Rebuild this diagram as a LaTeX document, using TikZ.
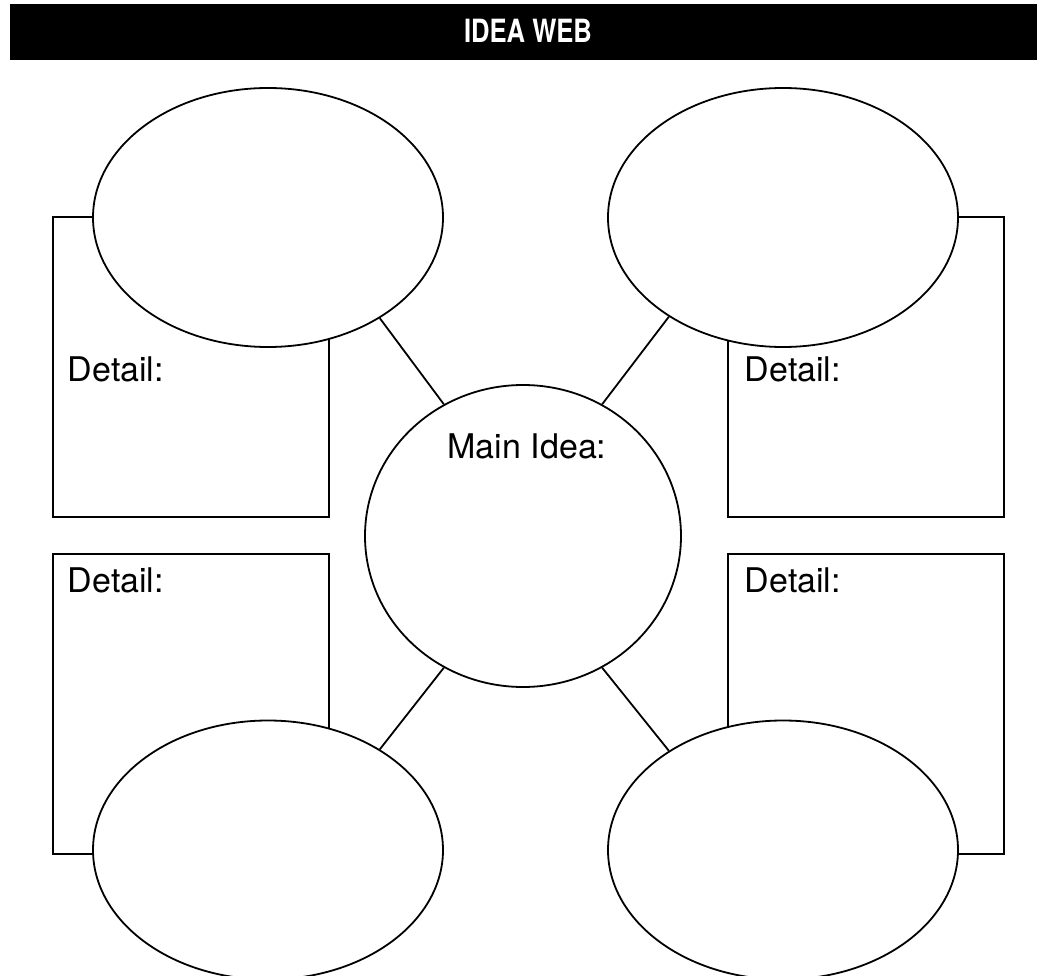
\documentclass[tikz,border=0pt]{standalone}
\usepackage{fontspec}
\setmainfont{TeX Gyre Heros}
\newfontfamily\titlefont[FakeStretch=0.8]{TeX Gyre Heros}
\usetikzlibrary{shapes,positioning}

\begin{document}
\begin{tikzpicture}[x=1pt,y=-1pt,line width=1.8pt,
	bubble/.style={ellipse,draw,fill=white,inner sep=0pt,minimum width=350pt,minimum height=259pt},
	main node/.style={ellipse,draw,fill=white,inner sep=0pt,minimum width=316pt,minimum height=302pt},
	detail box/.style={rectangle,draw,inner sep=0pt,minimum width=276pt,minimum height=300pt},
	label text/.style={font=\fontsize{34}{40}\selectfont,inner sep=0pt}]
	
	\useasboundingbox (0,0) rectangle (1037,976);
	\fill (10,4) rectangle (1037,60);
	\node[text=white,inner sep=0pt,anchor=base,font=\titlefont\bfseries\fontsize{32}{36}\selectfont] (title) at (528,43) {IDEA WEB};
	
	\node[detail box] (dtl) at (191,367) {};
	\node[detail box] (dtr) at (866,367) {};
	\node[detail box] (dbl) at (191,704) {};
	\node[detail box] (dbr) at (866,704) {};
	
	\node[bubble] (tl) at (268,217.5) {};
	\node[bubble] (tr) at (783,217.5) {};
	\node[bubble] (bl) at (268,850) {};
	\node[bubble] (br) at (783,850) {};
	
	\node[main node] (main) at (523,536) {};
	\node[label text,anchor=base] (mainlbl) at (527,459) {Main Idea:};
	
	\node[label text,anchor=base west] (ltl) at (67,382) {Detail:};
	\node[label text,anchor=base west] (ltr) at (744,382) {Detail:};
	\node[label text,anchor=base west] (lbl) at (67,592) {Detail:};
	\node[label text,anchor=base west] (lbr) at (744,592) {Detail:};
	
	\path
	(tl.-42) edge (main.121)
	(tr.-139) edge (main.59)
	(bl.42) edge (main.239)
	(br.139) edge (main.-59);
\end{tikzpicture}
\end{document}
